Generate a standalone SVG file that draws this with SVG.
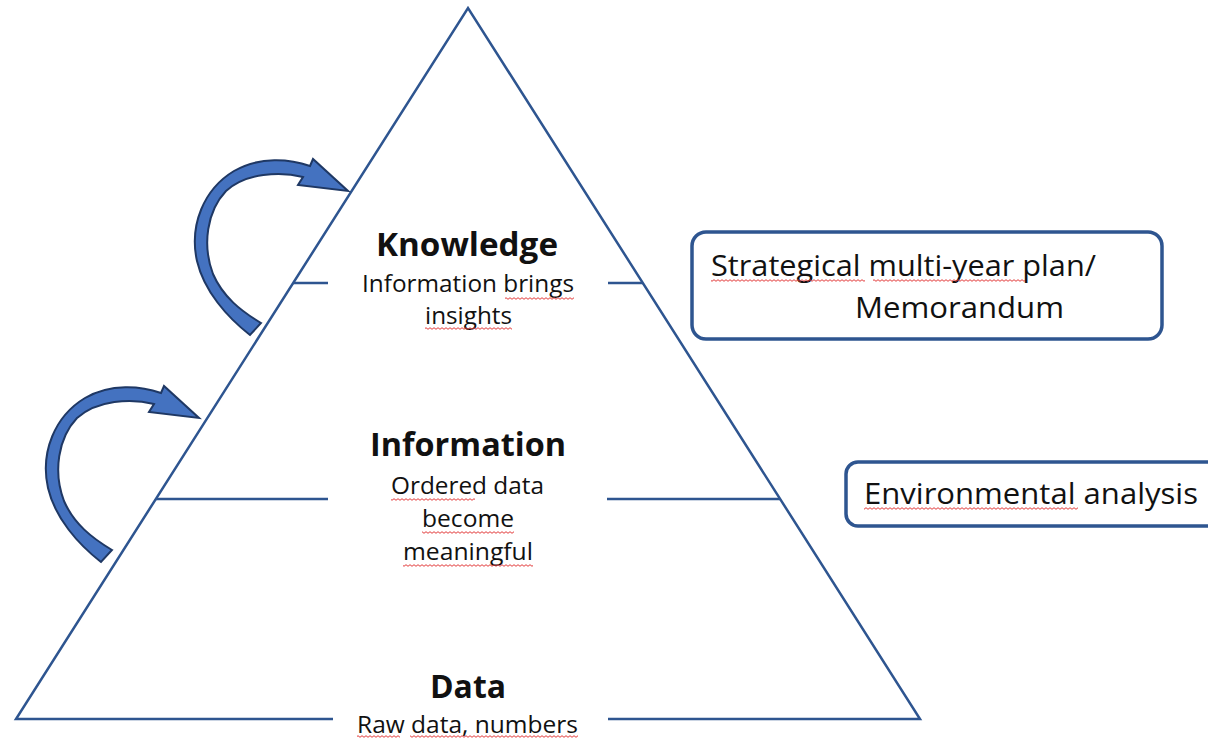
<svg xmlns="http://www.w3.org/2000/svg" width="1208" height="741" viewBox="0 0 1208 741">
<style>
.edge{fill:none;stroke:#2E5590;stroke-width:2.5;stroke-linecap:butt}
.box{fill:#fff;stroke:#2E5590;stroke-width:3.5}
.arrow{fill:#4472C0;stroke:#1F3864;stroke-width:2;stroke-linejoin:miter}
text{font-family:"Open Sans","Liberation Sans",sans-serif;fill:#111}
.h{font-weight:bold;font-size:33px}
.t{font-size:24px}
.bt{font-size:30px}
.sq{fill:url(#wave)}
</style>
<defs>
<pattern id="wave" width="4" height="3" patternUnits="userSpaceOnUse">
<path d="M0,2.3 L2,0.7 L4,2.3" fill="none" stroke="#E23A3A" stroke-width="1"/>
</pattern>
<path id="curl" d="M310,166 L313,159 L348,191 L298,185 L303,177 C280,171 246,173 226,191 C207,211 202,245 213,274 C223,297 241,311 261,323 L250,335 C227,317 204,291 197,261 C189,225 204,189 234,171 C260,156 290,159 310,166 Z"/>
</defs>
<rect width="1208" height="741" fill="#fff"/>
<g id="connectors">
<path class="edge" d="M333,719 L16,719 L468,8 L920,719 L608,719"/>
<line class="edge" x1="293" y1="283" x2="328" y2="283"/>
<line class="edge" x1="608" y1="283" x2="643" y2="283"/>
<line class="edge" x1="156" y1="499" x2="328" y2="499"/>
<line class="edge" x1="607" y1="499" x2="780" y2="499"/>
<use href="#curl" class="arrow"/>
<use href="#curl" class="arrow" transform="translate(-149,227)"/>
</g>
<g id="knowledge">
<text class="h" x="376" y="256" textLength="182" lengthAdjust="spacingAndGlyphs">Knowledge</text>
<text class="t" x="362" y="292" textLength="212" lengthAdjust="spacingAndGlyphs">Information brings</text>
<text class="t" x="425" y="324" textLength="87" lengthAdjust="spacingAndGlyphs">insights</text>
<rect class="sq" x="505" y="297" width="69" height="3"/>
<rect class="sq" x="425" y="327" width="87" height="3"/>
</g>
<g id="information">
<text class="h" x="370" y="456" textLength="196" lengthAdjust="spacingAndGlyphs">Information</text>
<text class="t" x="391" y="494" textLength="153" lengthAdjust="spacingAndGlyphs">Ordered data</text>
<text class="t" x="422" y="527" textLength="92" lengthAdjust="spacingAndGlyphs">become</text>
<text class="t" x="403" y="560" textLength="130" lengthAdjust="spacingAndGlyphs">meaningful</text>
<rect class="sq" x="391" y="498" width="84" height="3"/>
<rect class="sq" x="422" y="531" width="92" height="3"/>
<rect class="sq" x="403" y="564" width="130" height="3"/>
</g>
<g id="data">
<text class="h" x="430" y="698" textLength="76" lengthAdjust="spacingAndGlyphs">Data</text>
<text class="t" x="357" y="733" textLength="221" lengthAdjust="spacingAndGlyphs">Raw data, numbers</text>
<rect class="sq" x="357" y="735" width="43" height="3"/>
<rect class="sq" x="410" y="735" width="168" height="3"/>
</g>
<g id="plan">
<rect class="box" x="692" y="232" width="470" height="107" rx="14"/>
<text class="bt" x="711" y="276" textLength="385" lengthAdjust="spacingAndGlyphs">Strategical multi-year plan/</text>
<text class="bt" x="855" y="318" textLength="209" lengthAdjust="spacingAndGlyphs">Memorandum</text>
<rect class="sq" x="711" y="279" width="154" height="3"/>
<rect class="sq" x="873" y="279" width="152" height="3"/>
</g>
<g id="environment">
<rect class="box" x="846" y="462" width="400" height="64" rx="12"/>
<text class="bt" x="864" y="504" textLength="334" lengthAdjust="spacingAndGlyphs">Environmental analysis</text>
<rect class="sq" x="864" y="507" width="214" height="3"/>
</g>
</svg>
